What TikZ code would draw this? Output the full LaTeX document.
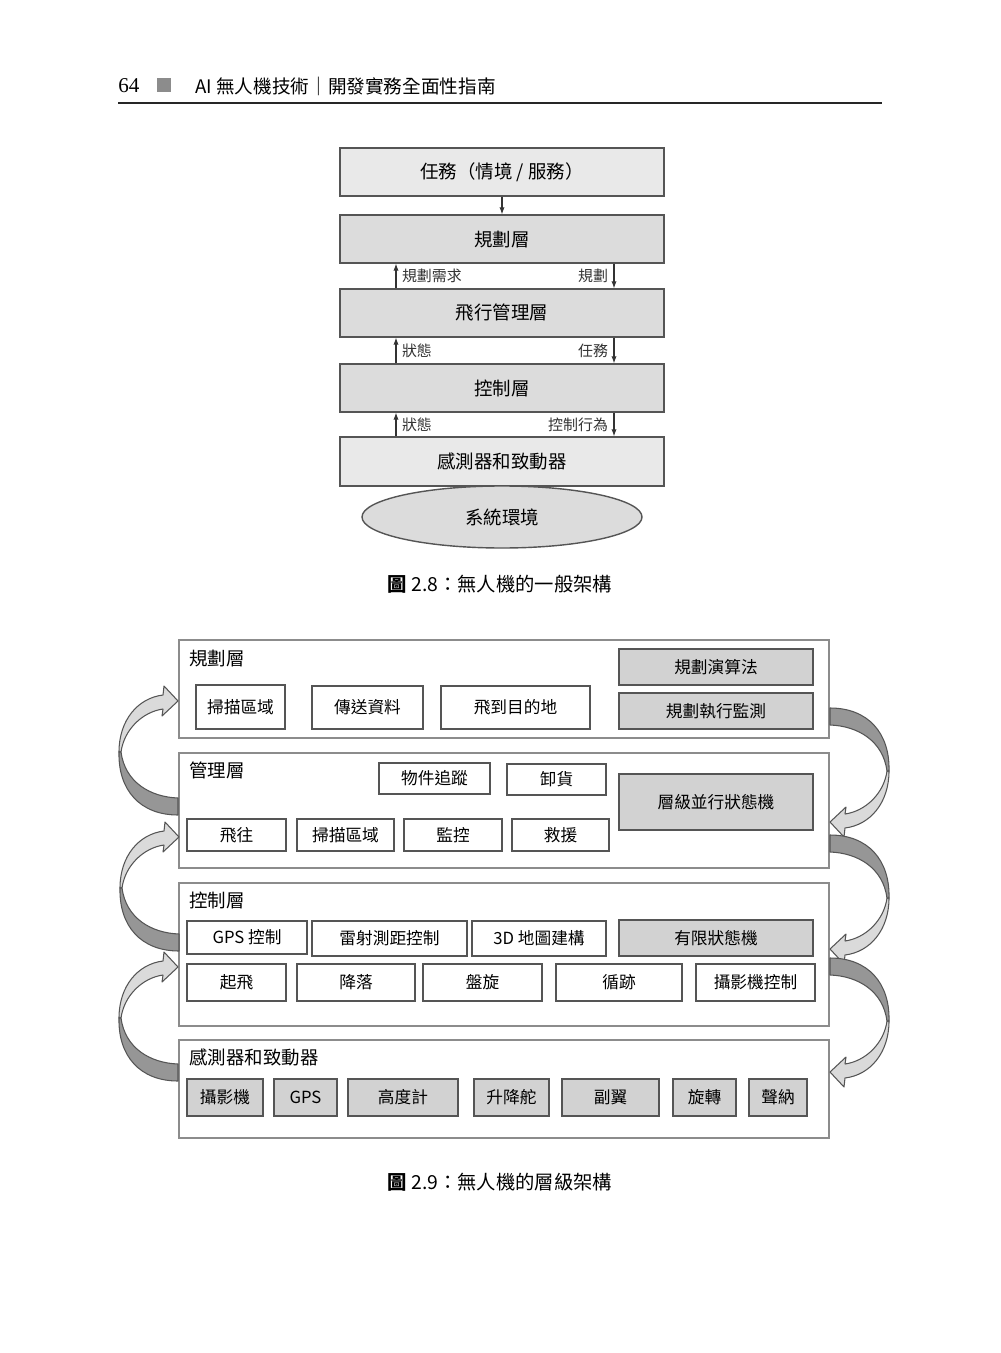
\documentclass[tikz,border=0pt]{standalone}
\usepackage{fontspec}
\setmainfont{Noto Sans CJK TC}
\newfontfamily\numfont{Liberation Serif}
\usetikzlibrary{positioning,shapes.geometric,fit,arrows.meta}
\definecolor{boxLine}{RGB}{85,85,85}
\definecolor{layerLine}{RGB}{140,140,140}
\definecolor{paleGray}{RGB}{233,233,233}
\definecolor{midGray}{RGB}{220,220,220}
\definecolor{compGray}{RGB}{210,210,210}
\definecolor{headGray}{RGB}{140,140,140}
\definecolor{arrowDark}{RGB}{150,150,150}
\definecolor{arrowLight}{RGB}{218,218,218}

% curved block arrow, tip at the origin, tail below
\tikzset{
  bendarrow/.pic={
    \filldraw[fill=arrowLight, draw=boxLine, line width=0.6pt, line join=round]
      (-59,51) .. controls (-59,19) and (-40,-3) .. (-15,-6) -- (-14,-15) -- (0,0)
      -- (-16,15) -- (-15,8) .. controls (-36,11) and (-54,29) .. (-57,51) -- cycle;
    \filldraw[fill=arrowDark, draw=boxLine, line width=0.6pt, line join=round]
      (-57,51) .. controls (-53,81) and (-28,96) .. (0,97) -- (0,114)
      .. controls (-38,114) and (-60,89) .. (-59,51) -- cycle;
  }
}

\begin{document}
\begin{tikzpicture}[
    x=0.2mm, y=-0.2mm,
    tier/.style={draw=boxLine, line width=0.8pt, inner sep=0pt, minimum width=64.8mm, minimum height=9.6mm, font=\fontsize{10.5}{12}\selectfont},
    sarr/.style={-{Latex[length=4pt,width=3pt]}, line width=0.6pt, black!80},
    slab/.style={font=\fontsize{8.5}{10}\selectfont, inner sep=1.1mm},
    layer/.style={draw=layerLine, line width=0.8pt, inner sep=0pt},
    ltitle/.style={anchor=west, inner sep=0pt, font=\fontsize{10.5}{12}\selectfont},
    comp/.style={draw=boxLine, line width=0.8pt, fill=white, inner sep=0pt, font=\fontsize{9.5}{11}\selectfont},
    algo/.style={comp, fill=compGray},
    figcap/.style={font=\fontsize{11}{13}\selectfont},
]
\useasboundingbox (0,0) rectangle (1000,1353);

% Header
\node[anchor=west, inner sep=0pt, font=\numfont\fontsize{12}{14}\selectfont] (pg) at (118,86) {64};
\node[fill=headGray, minimum size=2.8mm, inner sep=0pt] (mark) at (164,85.5) {};
\node[anchor=west, inner sep=0pt, font=\fontsize{10.6}{12}\selectfont] (book) at (195,86) {AI 無人機技術｜開發實務全面性指南};
\draw[line width=0.7pt, black!85] (118,103) -- (882,103);

% Figure 2.8
\node[tier, fill=paleGray] (task) at (502,172) {任務（情境 / 服務）};
\node[tier, fill=midGray] (plan) at (502,239) {規劃層};
\node[tier, fill=midGray] (fmgr) at (502,313) {飛行管理層};
\node[tier, fill=midGray] (ctrl) at (502,388) {控制層};
\node[tier, fill=paleGray, minimum height=9.8mm] (sens) at (502,461.5) {感測器和致動器};
\node[tier, ellipse, fill=midGray, minimum width=56mm, minimum height=12.4mm] (env) at (502,517) {系統環境};

\draw[sarr] (task) -- (plan);
\draw[sarr] ([xshift=-21.2mm]fmgr.north) -- node[slab, right] {規劃需求} ([xshift=-21.2mm]plan.south);
\draw[sarr] ([xshift=22.4mm]plan.south) -- node[slab, left] {規劃} ([xshift=22.4mm]fmgr.north);
\draw[sarr] ([xshift=-21.2mm]ctrl.north) -- node[slab, right] {狀態} ([xshift=-21.2mm]fmgr.south);
\draw[sarr] ([xshift=22.4mm]fmgr.south) -- node[slab, left] {任務} ([xshift=22.4mm]ctrl.north);
\draw[sarr] ([xshift=-21.2mm]sens.north) -- node[slab, right] {狀態} ([xshift=-21.2mm]ctrl.south);
\draw[sarr] ([xshift=22.4mm]ctrl.south) -- node[slab, left] {控制行為} ([xshift=22.4mm]sens.north);

\node[figcap] (cap8) at (500,584) {\textbf{圖} 2.8：無人機的一般架構};

% Figure 2.9 - layers
\node[layer, fit={(179,640)(829,738)}] (lplan) {};
\node[layer, fit={(179,753)(829,868)}] (lmgr) {};
\node[layer, fit={(179,883)(829,1026)}] (lctrl) {};
\node[layer, fit={(179,1040)(829,1138)}] (lsens) {};

\node[ltitle] (tplan) at (189,658) {規劃層};
\node[ltitle] (tmgr) at (189,770) {管理層};
\node[ltitle] (tctrl) at (189,900) {控制層};
\node[ltitle] (tsens) at (189,1057) {感測器和致動器};

% planning layer
\node[comp, minimum width=17.8mm, minimum height=8.8mm] (scanA) at (240.5,707) {掃描區域};
\node[comp, minimum width=22.2mm, minimum height=8.6mm] (send) at (367.5,707.5) {傳送資料};
\node[comp, minimum width=29.8mm, minimum height=8.6mm] (goto) at (515.5,707.5) {飛到目的地};
\node[algo, minimum width=38.8mm, minimum height=7.2mm] (palg) at (716,667) {規劃演算法};
\node[algo, minimum width=38.8mm, minimum height=7.2mm] (pmon) at (716,711) {規劃執行監測};

% management layer
\node[comp, minimum width=22.2mm, minimum height=6.2mm] (track) at (434.5,778.5) {物件追蹤};
\node[comp, minimum width=19.8mm, minimum height=6.2mm] (unload) at (556.5,779.5) {卸貨};
\node[algo, minimum width=38.8mm, minimum height=11.2mm] (hfsm) at (716,802) {層級並行狀態機};
\node[comp, minimum width=19.8mm, minimum height=6.4mm] (flyto) at (236.5,835) {飛往};
\node[comp, minimum width=19.4mm, minimum height=6.4mm] (scanB) at (345.5,835) {掃描區域};
\node[comp, minimum width=19.6mm, minimum height=6.4mm] (watch) at (453,835) {監控};
\node[comp, minimum width=19.4mm, minimum height=6.4mm] (rescue) at (560.5,835) {救援};

% control layer
\node[comp, minimum width=24mm, minimum height=6.6mm] (gpsc) at (247,937.5) {GPS 控制};
\node[comp, minimum width=31mm, minimum height=7mm] (laser) at (389.5,938.5) {雷射測距控制};
\node[comp, minimum width=26.8mm, minimum height=7mm] (map3d) at (539,938.5) {3D 地圖建構};
\node[algo, minimum width=38.8mm, minimum height=7.2mm] (fsm) at (716,938) {有限狀態機};
\node[comp, minimum width=19.8mm, minimum height=7.4mm] (takeoff) at (236.5,982.5) {起飛};
\node[comp, minimum width=23.6mm, minimum height=7.4mm] (land) at (356,982.5) {降落};
\node[comp, minimum width=23.8mm, minimum height=7.4mm] (hover) at (482.5,982.5) {盤旋};
\node[comp, minimum width=25.2mm, minimum height=7.4mm] (follow) at (619,982.5) {循跡};
\node[comp, minimum width=23.8mm, minimum height=7.4mm] (camc) at (755.5,982.5) {攝影機控制};

% sensor layer
\node[algo, minimum width=15.2mm, minimum height=7.4mm] (cam) at (225,1097.5) {攝影機};
\node[algo, minimum width=12.6mm, minimum height=7.4mm] (gps) at (305.5,1097.5) {GPS};
\node[algo, minimum width=22mm, minimum height=7.4mm] (alt) at (403,1097.5) {高度計};
\node[algo, minimum width=15mm, minimum height=7.4mm] (elev) at (511.5,1097.5) {升降舵};
\node[algo, minimum width=19.4mm, minimum height=7.4mm] (ail) at (610.5,1097.5) {副翼};
\node[algo, minimum width=12.6mm, minimum height=7.4mm] (rot) at (704.5,1097.5) {旋轉};
\node[algo, minimum width=11.6mm, minimum height=7.4mm] (sonar) at (778,1097.5) {聲納};

% bent arrows between layers
\pic at (178,701) {bendarrow};
\pic at (179,837) {bendarrow};
\pic at (178,967) {bendarrow};
\pic[rotate=180] at (830,822) {bendarrow};
\pic[rotate=180] at (830,949) {bendarrow};
\pic[rotate=180] at (830,1072) {bendarrow};

\node[figcap] (cap9) at (500,1182) {\textbf{圖} 2.9：無人機的層級架構};
\end{tikzpicture}
\end{document}
